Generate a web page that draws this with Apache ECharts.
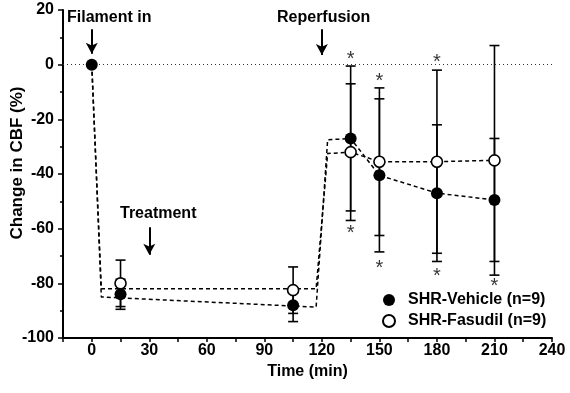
<!DOCTYPE html>
<html>
<head>
<meta charset="utf-8">
<script src="https://cdn.jsdelivr.net/npm/echarts@6/dist/echarts.min.js"></script>
<style>
html, body { margin: 0; padding: 0; background: #fff; }
#chart { width: 570px; height: 393px; }
</style>
</head>
<body>
<div id="chart"></div>
<script>
// time points (min) and group means / SD (% change in CBF)
var times = [0, 15, 105, 135, 150, 180, 210];
var vehicleMean = [0, -84, -88, -27, -40.5, -47, -49.5];
var vehicleSD = [0, 5.5, 6, 26.5, 28, 25, 22.5];
var fasudilMean = [0, -80, -82.5, -32, -35.5, -35.5, -35];
var fasudilSD = [0, 8.5, 8.5, 25, 27, 33.5, 42];

// dashed traces (occlusion drop and reperfusion rise)
var vehiclePathX = [0, 5, 117, 123, 135, 150, 180, 210];
var vehiclePathY = [0, -85, -88.7, -27.5, -27, -40.5, -47, -49.5];
var fasudilPathX = [0, 5, 117, 123, 135, 150, 180, 210];
var fasudilPathY = [0, -82, -82, -32.5, -32, -35.5, -35.5, -35];

// significance stars
var starX = [135, 135, 150, 150, 180, 180, 210];
var starY = [3, -60.5, -5, -73.5, 2, -76.5, -80];

// event arrows: [x, from y, to y]
var arrows = [[0, 13, 4], [30, -59.5, -69.5], [120, 13, 3.5]];

var xLabels = [0, 30, 60, 90, 120, 150, 180, 210, 240];
var yLabels = [-100, -80, -60, -40, -20, 0, 20];

var FONT = '"Liberation Sans", Arial, sans-serif';

function zip(a, b) {
    return a.map(function (v, i) { return [v, b[i]]; });
}

function errorBars(name, mean, sd) {
    var data = [];
    times.forEach(function (t, i) {
        if (sd[i] > 0) data.push([t, mean[i] - sd[i], mean[i] + sd[i]]);
    });
    return {
        type: 'custom',
        name: name,
        silent: true,
        z: 3,
        data: data,
        encode: { x: 0, y: [1, 2] },
        renderItem: function (params, api) {
            var lo = api.coord([api.value(0), api.value(1)]);
            var hi = api.coord([api.value(0), api.value(2)]);
            var w = 5;
            var st = { stroke: '#000', lineWidth: 1.6 };
            return {
                type: 'group',
                children: [
                    { type: 'line', shape: { x1: lo[0], y1: lo[1], x2: hi[0], y2: hi[1] }, style: st },
                    { type: 'line', shape: { x1: lo[0] - w, y1: lo[1], x2: lo[0] + w, y2: lo[1] }, style: st },
                    { type: 'line', shape: { x1: hi[0] - w, y1: hi[1], x2: hi[0] + w, y2: hi[1] }, style: st }
                ]
            };
        }
    };
}

var chart = echarts.init(document.getElementById('chart'));

var option = {
    animation: false,
    textStyle: { fontFamily: FONT },
    grid: { left: 63, right: 18, top: 10, bottom: 55, outerBoundsMode: 'none', containLabel: false },
    legend: {
        data: ['SHR-Vehicle (n=9)', 'SHR-Fasudil (n=9)'],
        orient: 'vertical',
        left: 377,
        top: 287,
        itemWidth: 12,
        itemHeight: 12,
        itemGap: 5,
        icon: 'circle',
        textStyle: { fontSize: 16, fontWeight: 'bold', color: '#000', fontFamily: FONT, padding: [0, 0, 0, 8] }
    },
    xAxis: {
        type: 'value',
        min: -15,
        max: 240,
        interval: 15,
        name: 'Time (min)',
        nameLocation: 'middle',
        nameGap: 22,
        nameTextStyle: { fontSize: 16, fontWeight: 'bold', color: '#000' },
        axisLine: { onZero: false, lineStyle: { color: '#000', width: 2 } },
        axisTick: { length: 4, lineStyle: { color: '#000', width: 1.5 } },
        splitLine: { show: false },
        axisLabel: {
            fontSize: 16, fontWeight: 'bold', color: '#000', margin: 5,
            formatter: function (v) { return xLabels.indexOf(v) >= 0 ? String(v) : ''; }
        }
    },
    yAxis: {
        type: 'value',
        min: -100,
        max: 20,
        interval: 20,
        axisLine: { show: true, onZero: false, lineStyle: { color: '#000', width: 2 } },
        axisTick: { show: true, length: 5, lineStyle: { color: '#000', width: 1.5 } },
        minorTick: { show: true, splitNumber: 2, length: 3, lineStyle: { color: '#000', width: 1.5 } },
        splitLine: { show: false },
        axisLabel: {
            fontSize: 16, fontWeight: 'bold', color: '#000', margin: 9,
            formatter: function (v) { return yLabels.indexOf(v) >= 0 ? String(v) : ''; }
        }
    },
    graphic: [
        { type: 'text', left: 67, top: 10, style: { text: 'Filament in', font: 'bold 16px ' + FONT, fill: '#000' } },
        { type: 'text', left: 120, top: 206, style: { text: 'Treatment', font: 'bold 16px ' + FONT, fill: '#000' } },
        { type: 'text', left: 277, top: 10, style: { text: 'Reperfusion', font: 'bold 16px ' + FONT, fill: '#000' } },
        {
            type: 'text', x: 17, y: 163, rotation: Math.PI / 2,
            style: {
                text: 'Change in CBF (%)', font: 'bold 17px ' + FONT, fill: '#000',
                align: 'center', verticalAlign: 'middle'
            }
        }
    ],
    series: [
        {
            type: 'line',
            name: 'vehicleTrace',
            data: zip(vehiclePathX, vehiclePathY),
            symbol: 'none',
            silent: true,
            z: 2,
            lineStyle: { color: '#000', width: 1.5, type: [4, 3] },
            markLine: {
                silent: true,
                symbol: 'none',
                label: { show: false },
                lineStyle: { color: '#333', width: 1, type: [1, 3] },
                data: [{ yAxis: 0 }]
            }
        },
        {
            type: 'line',
            name: 'fasudilTrace',
            data: zip(fasudilPathX, fasudilPathY),
            symbol: 'none',
            silent: true,
            z: 2,
            lineStyle: { color: '#000', width: 1.5, type: [4, 3] },
            markLine: {
                silent: true,
                symbol: ['none', 'arrow'],
                symbolSize: [9, 11],
                label: { show: false },
                lineStyle: { color: '#000', width: 2, type: 'solid' },
                data: arrows.map(function (a) {
                    return [{ coord: [a[0], a[1]] }, { coord: [a[0], a[2]] }];
                })
            }
        },
        errorBars('vehicleErr', vehicleMean, vehicleSD),
        errorBars('fasudilErr', fasudilMean, fasudilSD),
        {
            type: 'scatter',
            name: 'SHR-Vehicle (n=9)',
            data: zip(times, vehicleMean),
            symbol: 'circle',
            symbolSize: 12,
            z: 5,
            itemStyle: { color: '#000', opacity: 1 }
        },
        {
            type: 'scatter',
            name: 'SHR-Fasudil (n=9)',
            data: zip(times.slice(1), fasudilMean.slice(1)),
            symbol: 'circle',
            symbolSize: 11,
            z: 6,
            itemStyle: { color: '#fff', borderColor: '#000', borderWidth: 1.6, opacity: 1 }
        },
        {
            type: 'scatter',
            name: 'stars',
            data: zip(starX, starY),
            symbolSize: 0,
            silent: true,
            z: 7,
            label: {
                show: true,
                position: 'inside',
                formatter: '*',
                fontSize: 20,
                color: '#000',
                offset: [0, 3],
                fontFamily: FONT
            }
        }
    ]
};

chart.setOption(option);
window.addEventListener('resize', function () { chart.resize(); });
</script>
</body>
</html>
